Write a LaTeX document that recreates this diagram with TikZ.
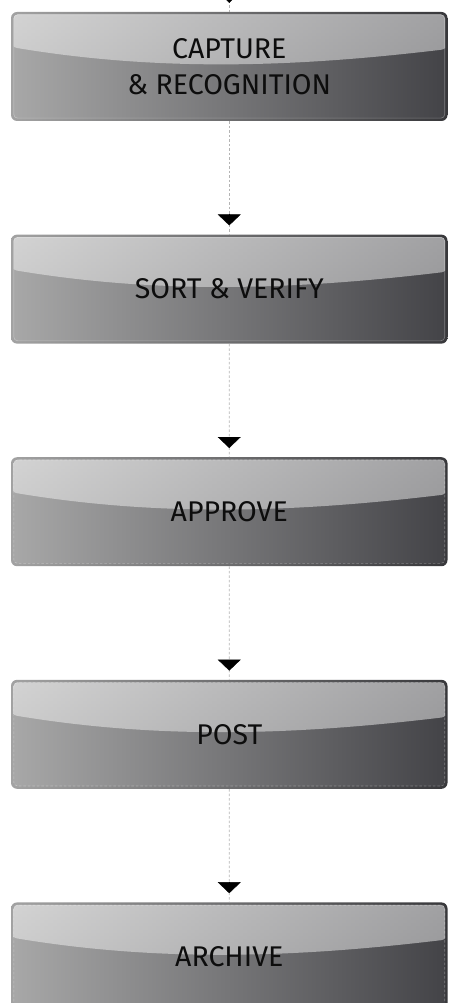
\documentclass[tikz,border=0pt]{standalone}
\usepackage{fontspec}
\setmainfont{Fira Sans}
\usetikzlibrary{shapes}
\usetikzlibrary{arrows.meta}

\definecolor{rimlight}{HTML}{A2A2A2}
\definecolor{rimdark}{HTML}{38383B}
\definecolor{facelight}{HTML}{A8A8A8}
\definecolor{facemid}{HTML}{8A8A8C}
\definecolor{facedark}{HTML}{434347}
\definecolor{linegray}{HTML}{B4B4B4}

\begin{document}
\begin{tikzpicture}
			\useasboundingbox (0,0) rectangle (448pt,-1003pt);
			\coordinate (entry) at (229.25pt,8pt);

			\tikzstyle{flow}=[draw=linegray, line width=.7pt, dash pattern=on 2.5pt off 2pt]
			\tikzstyle{tip}=[draw=black, -{Triangle[width=23pt,length=11pt]}]
			\tikzstyle{stepbox}=[rectangle, rounded corners=6pt, minimum width=436.5pt, minimum height=109pt,
				align=center, text=black!95, font=\fontsize{28.5}{36}\selectfont,
				left color=rimlight, right color=rimdark,
				path picture={
					\begin{scope}
						\clip[rounded corners=4pt] ([shift={(2.5pt,-2.5pt)}]path picture bounding box.north west) rectangle ([shift={(-2.5pt,2.5pt)}]path picture bounding box.south east);
						\shade[left color=facelight, middle color=facemid, right color=facedark]
							(path picture bounding box.north west) rectangle (path picture bounding box.south east);
						\shade[top color=white, bottom color=white!85!gray, opacity=.5]
							(path picture bounding box.north west) -- ([shift={(0pt,-35pt)}]path picture bounding box.north west)
							.. controls ([shift={(150pt,-60pt)}]path picture bounding box.north west) and ([shift={(-150pt,-55pt)}]path picture bounding box.north east)
							.. ([shift={(0pt,-37pt)}]path picture bounding box.north east) -- (path picture bounding box.north east) -- cycle;
						\draw[white, opacity=.3, line width=1.2pt, rounded corners=4pt]
							([shift={(2.5pt,-2.5pt)}]path picture bounding box.north west) rectangle ([shift={(-2.5pt,2.5pt)}]path picture bounding box.south east);
					\end{scope}
				}]
			\tikzstyle{every node}=[stepbox]
			\tikzstyle{edge from parent}=[flow]

			\node (capture) at (229.25pt,-66.5pt) {CAPTURE\\\& RECOGNITION} [level distance=222.6pt]
			child {node (sort) {SORT \& VERIFY}
				child {node (approve) {APPROVE}
					child {node (post) {POST}
						child {node (archive) {ARCHIVE}}}}};

			\draw[flow] (entry) -- (capture);
			\foreach \n in {capture,sort,approve,post,archive}
				\draw[tip] ([yshift=20pt]\n.north) -- ([yshift=9pt]\n.north);
\end{tikzpicture}
\end{document}
